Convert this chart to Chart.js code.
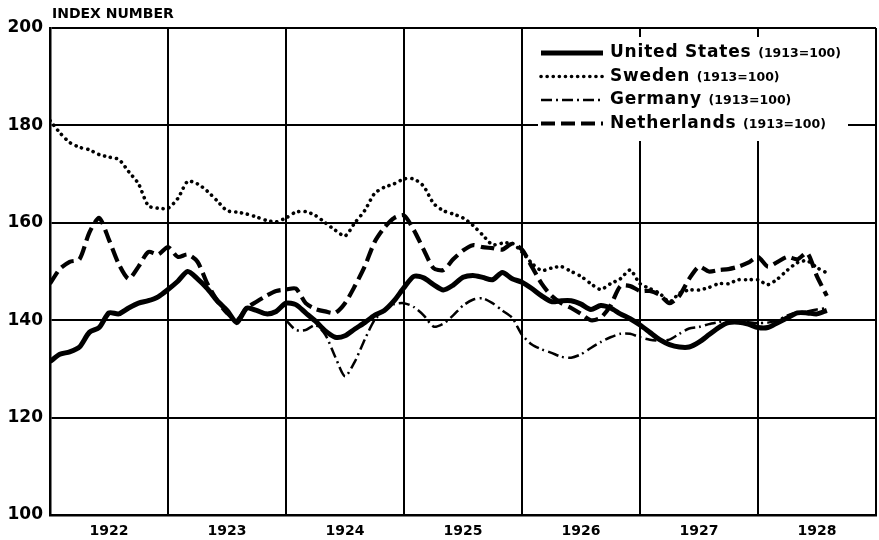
<!DOCTYPE html>
<html>
<head>
<meta charset="utf-8">
<script src="https://cdn.jsdelivr.net/npm/chart.js@4.4.0/dist/chart.umd.min.js"></script>
<style>
  html, body { margin: 0; padding: 0; background: #fff; }
  #wrap { width: 879px; height: 540px; }
</style>
</head>
<body>
<div id="wrap"><canvas id="chart" width="879" height="540"></canvas></div>
<script>
// Wholesale price index numbers (1913 = 100), monthly from Jan 1922

const YEARS = ['1922', '1923', '1924', '1925', '1926', '1927', '1928'];
const COUNTRIES = ['United States', 'Sweden', 'Germany', 'Netherlands'];
const BASE_LABEL = '(1913=100)';
const Y_TICKS = [100, 120, 140, 160, 180, 200];

const unitedStates = [
  131.5, 133, 133.5, 134.5, 137.5, 138.5, 141.5, 141.3, 142.5, 143.5, 144, 144.8,
  146.3, 148, 150, 148.5, 146.5, 144, 142, 139.5, 142.5, 142, 141.3, 141.8,
  143.5, 143.2, 141.5, 139.8, 137.8, 136.5, 136.8, 138.2, 139.5, 141, 142, 144,
  146.7, 149, 148.7, 147.3, 146.2, 147.2, 148.8, 149.2, 148.8, 148.3, 149.8, 148.5,
  147.8, 146.5, 145, 143.8, 144, 144, 143.3, 142.2, 143, 142.5, 141.3, 140.3,
  139, 137.5, 136, 135, 134.5, 134.5, 135.5, 137, 138.5, 139.5, 139.6, 139.2,
  138.5, 138.5, 139.5, 140.5, 141.5, 141.5, 141.3, 142,
];

const sweden = [
  181, 178.5, 176.5, 175.5, 175, 174, 173.5, 173, 170.5, 168, 163.5, 163,
  163, 165, 168.5, 168, 166.5, 164.5, 162.5, 162.2, 161.8, 161.2, 160.5, 160.2,
  161, 162.2, 162.3, 161.5, 160, 158.5, 157.3, 160, 162.5, 166, 167.3, 168,
  169, 169, 167.5, 164, 162.5, 161.8, 161, 159.5, 157.5, 155.5, 155.8, 155.8,
  154, 151.7, 150.2, 150.7, 151, 150, 149, 147.5, 146.3, 147.5, 148.5, 150.3,
  147.5, 146.5, 145.5, 143.8, 145.5, 146.2, 146.2, 146.7, 147.5, 147.5, 148.3, 148.3,
  148.3, 147.3, 148.5, 150.3, 151.8, 152.2, 150.8, 149.7,
];

// no German series before 1924
const germany = [
  null, null, null, null, null, null, null, null, null, null, null, null,
  null, null, null, null, null, null, null, null, null, null, null, null,
  140, 138, 138, 139, 137, 132.5, 128.5, 131.5, 136, 140, 142, 143.3,
  143.5, 142.7, 141, 138.7, 139.3, 141, 143, 144.2, 144.5, 143.5, 142, 140.5,
  137, 135, 134, 133.3, 132.5, 132.3, 133, 134.3, 135.5, 136.5, 137.2, 137.2,
  136.5, 136, 135.8, 136, 137.2, 138.3, 138.6, 139.2, 139.6, 140, 139.8, 139.6,
  139.4, 139.5, 140, 141, 141.6, 141.8, 142.2, 142.5,
];

const netherlands = [
  147.5, 150.5, 152, 152.5, 158, 161, 156.5, 151.5, 148.5, 151, 154, 153.5,
  155, 153, 153.5, 152, 147.5, 144, 141.5, 140, 142.5, 143.8, 145, 146,
  146.3, 146.5, 143.5, 142.3, 141.8, 141.5, 143.5, 147, 151, 156, 159, 161,
  161.5, 158.5, 154.5, 150.7, 150.3, 152.5, 154.3, 155.4, 155, 154.8, 154.5, 155.7,
  154.5, 151, 147.5, 145, 143.5, 142.5, 141.3, 140, 140.5, 143, 147, 147,
  146, 146, 145.2, 143.5, 145, 148.5, 151, 150, 150.3, 150.5, 151, 151.8,
  153, 151, 152, 153, 152.5, 153.8, 149, 145,
];

const FONT = '"DejaVu Sans", "Liberation Sans", sans-serif';

// month index -> point
const toPoints = values => values.map((v, i) => ({ x: i, y: v }));

const datasets = [
  { label: COUNTRIES[0], data: toPoints(unitedStates), borderWidth: 5, borderDash: [] },
  { label: COUNTRIES[1], data: toPoints(sweden), borderWidth: 3.6, borderDash: [0.1, 6], borderCapStyle: 'round' },
  { label: COUNTRIES[2], data: toPoints(germany), borderWidth: 2.5, borderDash: [11, 4, 2, 4] },
  { label: COUNTRIES[3], data: toPoints(netherlands), borderWidth: 4.2, borderDash: [14, 6] },
].map(ds => Object.assign({
  borderColor: '#000',
  backgroundColor: '#000',
  pointRadius: 0,
  tension: 0.25,
  borderJoinStyle: 'round',
  fill: false,
}, ds));

// Boxed legend in the upper right, white behind it so the grid stops at its edge
const boxLegend = {
  id: 'boxLegend',
  beforeDatasetsDraw(chart) {
    const ctx = chart.ctx;
    ctx.save();
    ctx.fillStyle = '#fff';
    ctx.fillRect(538, 37, 310, 104);
    chart.data.datasets.forEach((ds, i) => {
      const y = 53 + i * 23.5;
      ctx.beginPath();
      ctx.setLineDash(ds.borderDash || []);
      ctx.lineWidth = ds.borderWidth;
      ctx.lineCap = ds.borderCapStyle || 'butt';
      ctx.strokeStyle = '#000';
      ctx.moveTo(541, y);
      ctx.lineTo(603, y);
      ctx.stroke();
      ctx.setLineDash([]);

      ctx.fillStyle = '#000';
      ctx.textBaseline = 'middle';
      ctx.textAlign = 'left';
      ctx.letterSpacing = '0.8px';
      ctx.font = `bold 17px ${FONT}`;
      ctx.fillText(ds.label, 610, y);
      const w = ctx.measureText(ds.label + ' ').width;
      ctx.letterSpacing = '0px';
      ctx.font = `bold 12.5px ${FONT}`;
      ctx.fillText(BASE_LABEL, 610 + w, y + 1);
    });
    ctx.restore();
  },
  afterDraw(chart) {
    const ctx = chart.ctx;
    ctx.save();
    ctx.fillStyle = '#000';
    ctx.font = `bold 14px ${FONT}`;
    ctx.textBaseline = 'alphabetic';
    ctx.fillText('INDEX NUMBER', 52, 18);
    ctx.restore();
  },
};

new Chart(document.getElementById('chart'), {
  type: 'line',
  data: { datasets },
  options: {
    responsive: false,
    devicePixelRatio: 1,
    animation: false,
    layout: { padding: { top: 28, right: 3, bottom: 0, left: 0 } },
    plugins: {
      legend: { display: false },
      tooltip: { enabled: false },
    },
    scales: {
      x: {
        type: 'linear',
        min: 0,
        max: YEARS.length * 12,
        afterBuildTicks: scale => {
          const ticks = [];
          for (let v = 0; v <= YEARS.length * 12; v += 6) ticks.push({ value: v });
          scale.ticks = ticks;
        },
        afterFit: scale => {
          scale.height = 25;
          scale.paddingLeft = 0;
          scale.paddingRight = 0;
        },
        grid: {
          color: ctx => (ctx.tick && ctx.tick.value % 12 === 0 ? '#000' : 'rgba(0,0,0,0)'),
          lineWidth: 2,
          drawTicks: false,
        },
        border: { display: true, color: '#000', width: 2.5 },
        ticks: {
          autoSkip: false,
          maxRotation: 0,
          padding: 8,
          color: '#000',
          font: { family: FONT, size: 14, weight: 'bold' },
          callback: v => (v % 12 === 6 ? YEARS[(v - 6) / 12] : ''),
        },
      },
      y: {
        min: Y_TICKS[0],
        max: Y_TICKS[Y_TICKS.length - 1],
        afterBuildTicks: scale => { scale.ticks = Y_TICKS.map(v => ({ value: v })); },
        afterFit: scale => { scale.width = 50; },
        grid: { color: '#000', lineWidth: 2, drawTicks: false },
        border: { display: true, color: '#000', width: 2.5 },
        ticks: {
          padding: 7,
          color: '#000',
          font: { family: FONT, size: 17, weight: 'bold' },
        },
      },
    },
  },
  plugins: [boxLegend],
});
</script>
</body>
</html>
